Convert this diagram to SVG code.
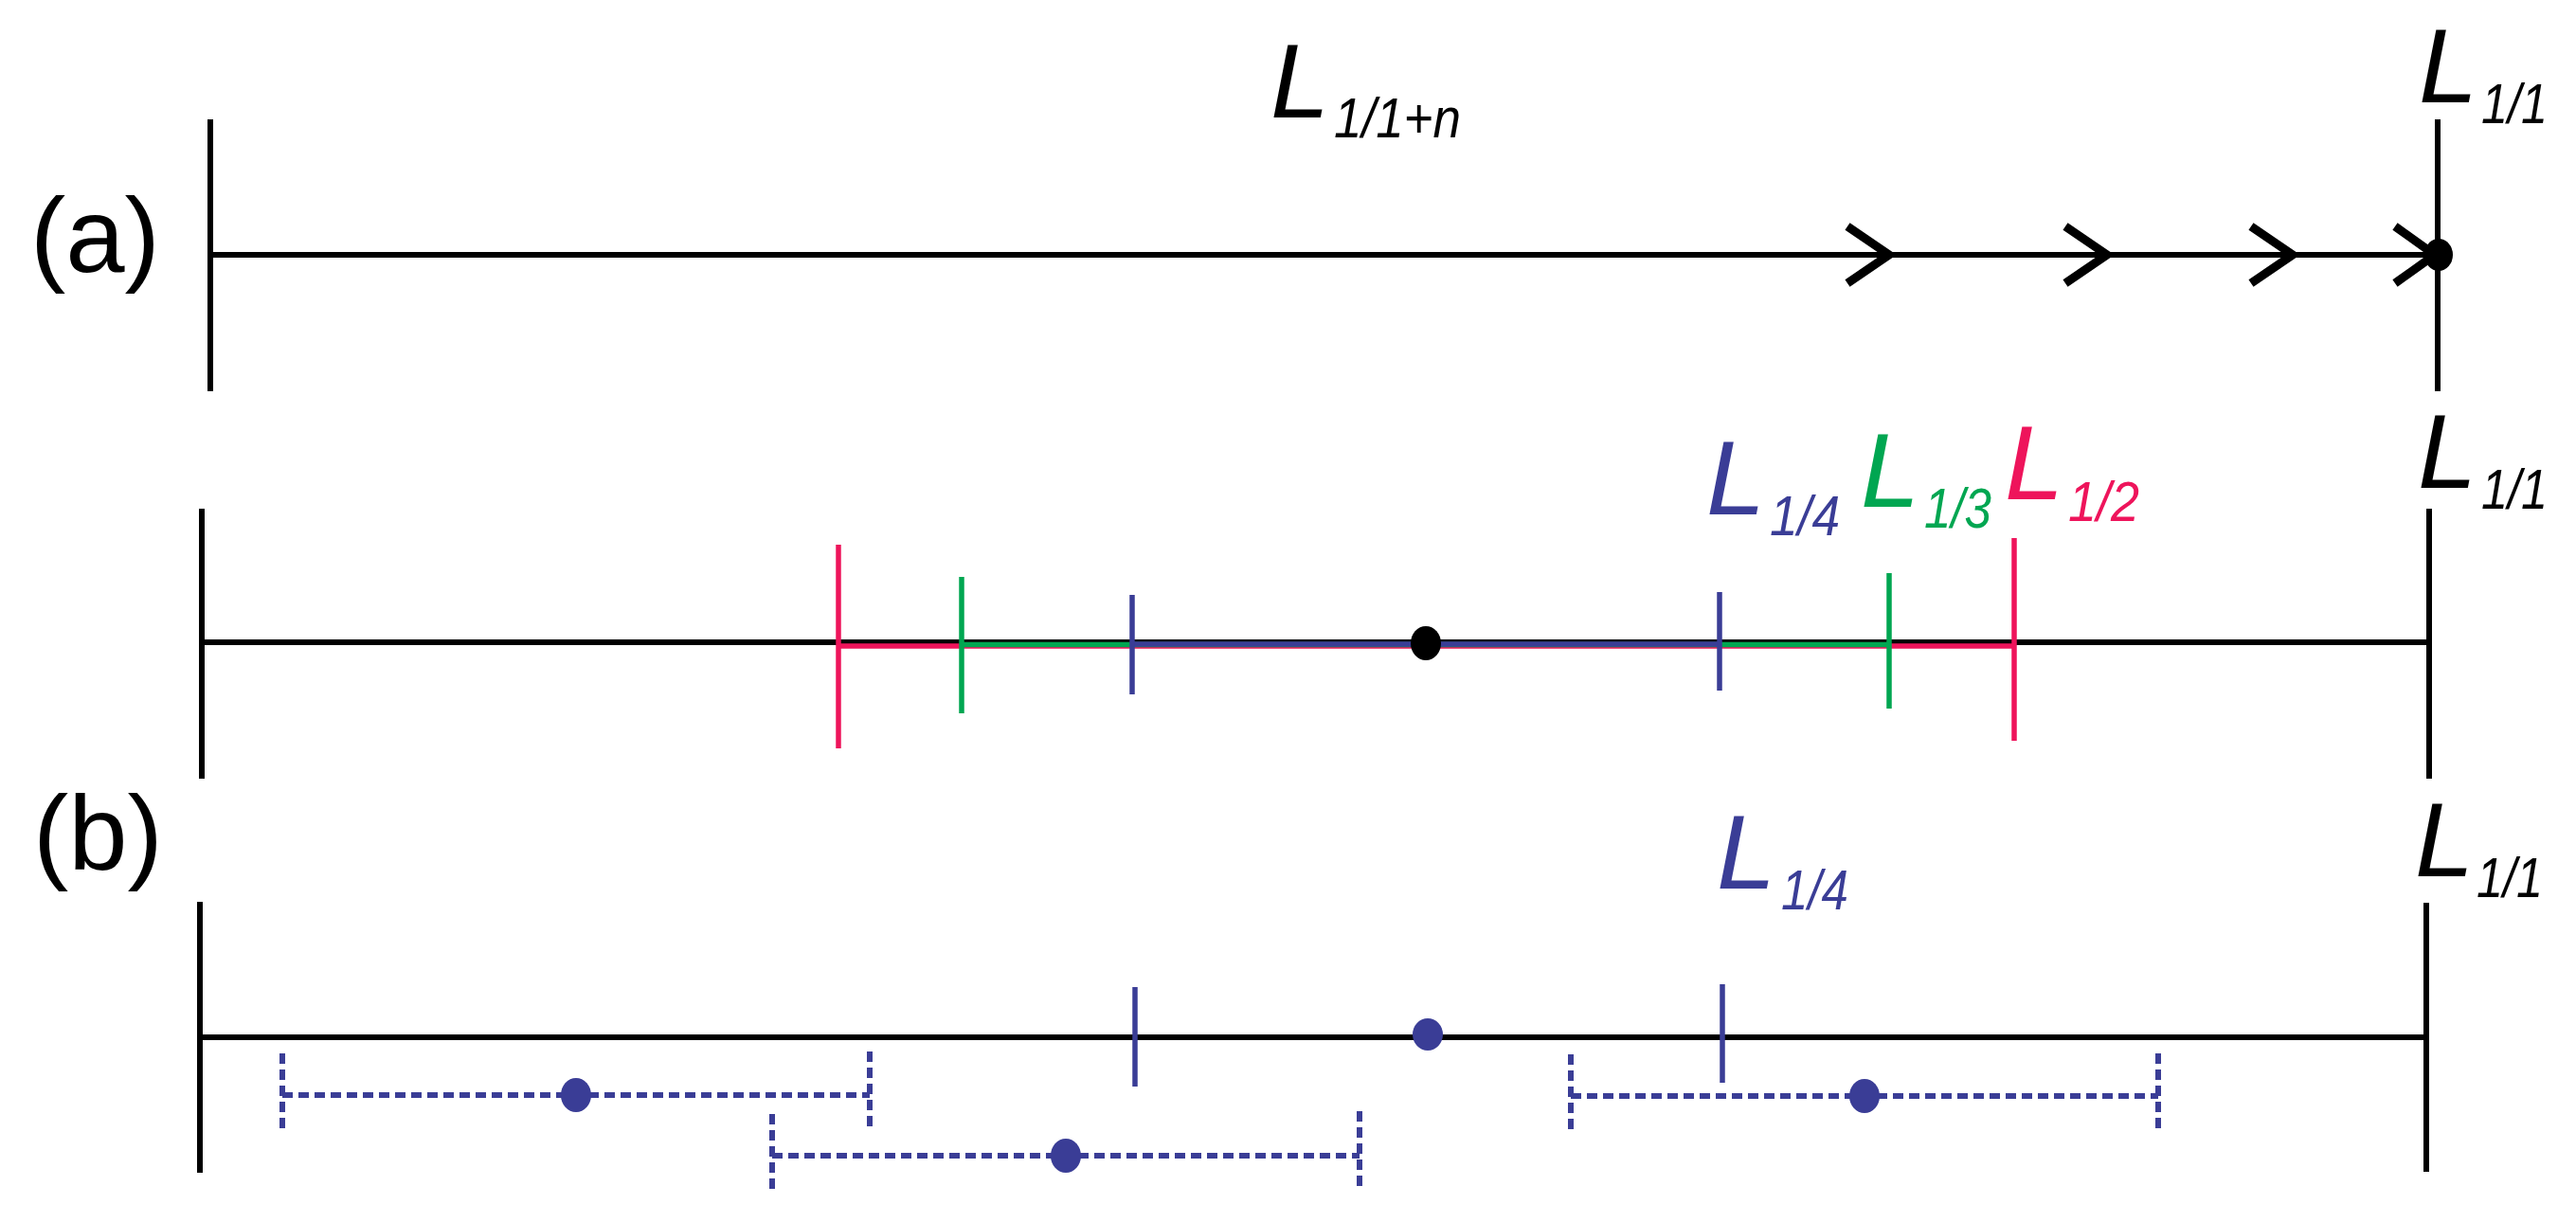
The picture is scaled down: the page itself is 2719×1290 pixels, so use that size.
<svg xmlns="http://www.w3.org/2000/svg" width="2719" height="1290" viewBox="0 0 2719 1290">
<style>
.bg{fill:#ffffff}
.ax{stroke:#000;stroke-width:6;fill:none}
.lab{font-family:"Liberation Sans",Arial,sans-serif;font-size:112px;fill:#000}
.L{font-family:"Liberation Sans",Arial,sans-serif;font-style:italic;font-size:112px}
.s{font-family:"Liberation Sans",Arial,sans-serif;font-style:italic;font-size:59px}
.k{fill:#000}
.b{fill:#3a3d96}
.g{fill:#00a651}
.r{fill:#ee145b}
.chev{stroke:#000;stroke-width:9;fill:none;stroke-linecap:butt;stroke-linejoin:miter}
.tb{stroke:#3a3d96;stroke-width:5.5;fill:none}
.tg{stroke:#00a651;stroke-width:5.5;fill:none}
.tr{stroke:#ee145b;stroke-width:5.5;fill:none}
.dash{stroke:#3a3d96;stroke-width:6;fill:none;stroke-dasharray:11 6}
</style>
<rect class="bg" x="0" y="0" width="2719" height="1290"/>

<g id="panel-labels">
<text class="lab" x="32" y="287">(a)</text>
<text class="lab" x="35" y="918">(b)</text>
</g>

<g id="connectors">
<line class="ax" x1="222" y1="269" x2="2573" y2="269"/>
<line class="ax" x1="213" y1="678" x2="2564" y2="678"/>
<line class="tr" x1="885" y1="682" x2="2126" y2="682" stroke-width="6"/>
<line class="tg" x1="1015" y1="680.5" x2="1994" y2="680.5" stroke-width="6"/>
<line class="tb" x1="1195" y1="680" x2="1815" y2="680" stroke-width="8"/>
<line class="ax" x1="211" y1="1095" x2="2561" y2="1095"/>
</g>

<g id="row1">
<line class="ax" x1="222" y1="126" x2="222" y2="413"/>
<line class="ax" x1="2573" y1="126" x2="2573" y2="413"/>
<path class="chev" d="M1950,239 L1994,269 L1950,299"/>
<path class="chev" d="M2180,239 L2224,269 L2180,299"/>
<path class="chev" d="M2376,239 L2420,269 L2376,299"/>
<path class="chev" d="M2528,239 L2570,269 L2528,299"/>
<ellipse class="k" cx="2574" cy="269" rx="15" ry="17"/>
</g>

<g id="row2">
<line class="ax" x1="213" y1="537" x2="213" y2="822"/>
<line class="ax" x1="2564" y1="537" x2="2564" y2="822"/>
<line class="tr" x1="885" y1="575" x2="885" y2="790"/>
<line class="tr" x1="2126" y1="568" x2="2126" y2="782"/>
<line class="tg" x1="1015" y1="609" x2="1015" y2="753"/>
<line class="tg" x1="1994" y1="605" x2="1994" y2="748"/>
<line class="tb" x1="1195" y1="628" x2="1195" y2="733"/>
<line class="tb" x1="1815" y1="625" x2="1815" y2="729"/>
<ellipse class="k" cx="1505" cy="679" rx="16" ry="18"/>
</g>

<g id="row3">
<line class="ax" x1="211" y1="952" x2="211" y2="1238"/>
<line class="ax" x1="2561" y1="953" x2="2561" y2="1237"/>
<line class="tb" x1="1198" y1="1042" x2="1198" y2="1147"/>
<line class="tb" x1="1818" y1="1039" x2="1818" y2="1143"/>
<ellipse class="b" cx="1507" cy="1092" rx="16" ry="17"/>
</g>

<g id="errorbar1">
<line class="dash" x1="298" y1="1156" x2="918" y2="1156"/>
<line class="dash" x1="298" y1="1112" x2="298" y2="1197"/>
<line class="dash" x1="918" y1="1110" x2="918" y2="1193"/>
<ellipse class="b" cx="608" cy="1156" rx="16" ry="18"/>
</g>
<g id="errorbar2">
<line class="dash" x1="815" y1="1220" x2="1435" y2="1220"/>
<line class="dash" x1="815" y1="1176" x2="815" y2="1260"/>
<line class="dash" x1="1435" y1="1173" x2="1435" y2="1255"/>
<ellipse class="b" cx="1125" cy="1220" rx="16" ry="18"/>
</g>
<g id="errorbar3">
<line class="dash" x1="1658" y1="1157" x2="2278" y2="1157"/>
<line class="dash" x1="1658" y1="1113" x2="1658" y2="1198"/>
<line class="dash" x1="2278" y1="1112" x2="2278" y2="1194"/>
<ellipse class="b" cx="1968" cy="1157" rx="16" ry="18"/>
</g>

<g id="label-L-1-1n">
<text class="L k" x="1341" y="124">L</text>
<text class="s k" x="1408" y="145" textLength="134" lengthAdjust="spacingAndGlyphs">1/1+n</text>
</g>
<g id="label-L-1-1-a">
<text class="L k" x="2553" y="108">L</text>
<text class="s k" x="2619" y="130" textLength="70" lengthAdjust="spacingAndGlyphs">1/1</text>
</g>
<g id="label-L-1-4-mid">
<text class="L b" x="1801" y="543">L</text>
<text class="s b" x="1868" y="565" textLength="74" lengthAdjust="spacingAndGlyphs">1/4</text>
</g>
<g id="label-L-1-3">
<text class="L g" x="1964" y="535">L</text>
<text class="s g" x="2031" y="557" textLength="71" lengthAdjust="spacingAndGlyphs">1/3</text>
</g>
<g id="label-L-1-2">
<text class="L r" x="2116" y="527">L</text>
<text class="s r" x="2183" y="550" textLength="75" lengthAdjust="spacingAndGlyphs">1/2</text>
</g>
<g id="label-L-1-1-mid">
<text class="L k" x="2552" y="515">L</text>
<text class="s k" x="2619" y="537" textLength="70" lengthAdjust="spacingAndGlyphs">1/1</text>
</g>
<g id="label-L-1-4-bot">
<text class="L b" x="1812" y="938">L</text>
<text class="s b" x="1880" y="960" textLength="71" lengthAdjust="spacingAndGlyphs">1/4</text>
</g>
<g id="label-L-1-1-bot">
<text class="L k" x="2549" y="925">L</text>
<text class="s k" x="2614" y="947" textLength="70" lengthAdjust="spacingAndGlyphs">1/1</text>
</g>
</svg>
